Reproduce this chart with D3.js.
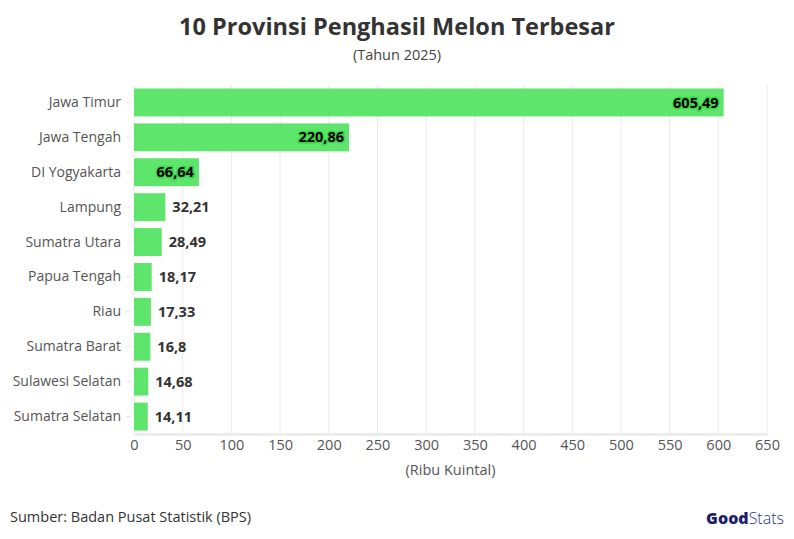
<!DOCTYPE html>
<html>
<head>
<meta charset="utf-8">
<script src="https://cdn.jsdelivr.net/npm/d3@7"></script>
<style>
  body { margin: 0; background: #fff; }
  svg { font-family: "Open Sans", "Noto Sans", sans-serif; }
</style>
</head>
<body>
<div id="chart"></div>
<script>
var provinces = ["Jawa Timur", "Jawa Tengah", "DI Yogyakarta", "Lampung", "Sumatra Utara",
  "Papua Tengah", "Riau", "Sumatra Barat", "Sulawesi Selatan", "Sumatra Selatan"];
var production = [605.49, 220.86, 66.64, 32.21, 28.49, 18.17, 17.33, 16.8, 14.68, 14.11];
var xTicks = [0, 50, 100, 150, 200, 250, 300, 350, 400, 450, 500, 550, 600, 650];

var W = 794, H = 539;
var margin = { top: 85, right: 27, bottom: 105, left: 134 };
var width = W - margin.left - margin.right;
var height = H - margin.top - margin.bottom;

var data = provinces.map(function(p, i) { return { name: p, value: production[i] }; });

var svg = d3.select("#chart").append("svg")
  .attr("width", W).attr("height", H);

// title
svg.append("text")
  .attr("x", W / 2).attr("y", 35)
  .attr("text-anchor", "middle")
  .attr("font-size", 23.5).attr("font-weight", "bold")
  .attr("fill", "#333")
  .text("10 Provinsi Penghasil Melon Terbesar");

svg.append("text")
  .attr("x", W / 2).attr("y", 60)
  .attr("text-anchor", "middle")
  .attr("font-size", 14.5).attr("fill", "#444")
  .text("(Tahun 2025)");

var plot = svg.append("g")
  .attr("transform", "translate(" + margin.left + "," + margin.top + ")");

var x = d3.scaleLinear().domain([0, 650]).range([0, width]);
var y = d3.scaleBand().domain(provinces).range([0, height]).paddingInner(0.2).paddingOuter(0.1);

// grid
plot.append("g")
  .selectAll("line").data(xTicks).join("line")
  .attr("x1", function(d) { return x(d); }).attr("x2", function(d) { return x(d); })
  .attr("y1", 0).attr("y2", height)
  .attr("stroke", "#ebebeb").attr("stroke-width", 1);

// x axis
var xAxis = plot.append("g")
  .attr("transform", "translate(0," + height + ")")
  .call(d3.axisBottom(x).tickValues(xTicks).tickSize(0).tickPadding(6));
xAxis.select(".domain").attr("stroke", "#e6e6e6").attr("stroke-width", 2);
xAxis.selectAll("text").attr("font-size", 14.5).attr("fill", "#555")
  .attr("font-family", "'Open Sans', sans-serif");

// y axis
var yAxis = plot.append("g")
  .call(d3.axisLeft(y).tickSize(5).tickPadding(5));
yAxis.select(".domain").remove();
yAxis.selectAll("line").attr("stroke", "#e6e6e6").attr("transform", "translate(-3,0)");
yAxis.selectAll("text").attr("font-size", 14).attr("fill", "#555")
  .attr("font-family", "'Open Sans', sans-serif")
  .attr("dx", -3);

// bars
plot.selectAll("rect.bar").data(data).join("rect")
  .attr("class", "bar")
  .attr("x", x(0))
  .attr("y", function(d) { return y(d.name); })
  .attr("width", function(d) { return x(d.value) - x(0); })
  .attr("height", y.bandwidth())
  .attr("fill", "#5ee56b");

// value labels
var fmt = function(v) { return String(v).replace(".", ","); };
plot.selectAll("text.val").data(data).join("text")
  .attr("class", "val")
  .attr("x", function(d) { return d.value > 50 ? x(d.value) - 5 : x(d.value) + 7; })
  .attr("y", function(d) { return y(d.name) + y.bandwidth() / 2; })
  .attr("dy", "0.35em")
  .attr("text-anchor", function(d) { return d.value > 50 ? "end" : "start"; })
  .attr("font-size", 14.5).attr("font-weight", "bold")
  .attr("fill", function(d) { return d.value > 50 ? "#000" : "#333"; })
  .attr("stroke", function(d) { return d.value > 50 ? "#3fd44f" : "none"; })
  .attr("stroke-width", 3).attr("paint-order", "stroke")
  .text(function(d) { return fmt(d.value); });

// axis title
svg.append("text")
  .attr("x", margin.left + width / 2).attr("y", 475)
  .attr("text-anchor", "middle")
  .attr("font-size", 14.5).attr("fill", "#555")
  .text("(Ribu Kuintal)");

// source
svg.append("text")
  .attr("x", 10).attr("y", 522)
  .attr("font-size", 14.5).attr("fill", "#333")
  .text("Sumber: Badan Pusat Statistik (BPS)");

// logo
var logo = svg.append("text")
  .attr("x", 784).attr("y", 524)
  .attr("text-anchor", "end")
  .attr("font-size", 16);
logo.append("tspan").attr("font-weight", "800").attr("fill", "#1b1f6e").text("Good");
logo.append("tspan").attr("fill", "#2a3590").attr("font-weight", "300").text("Stats");
</script>
</body>
</html>
